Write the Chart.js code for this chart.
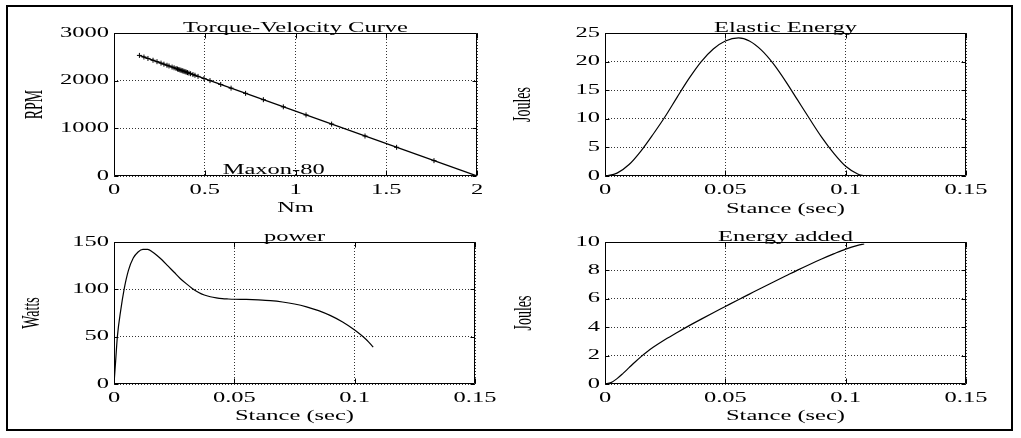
<!DOCTYPE html>
<html>
<head>
<meta charset="utf-8">
<script src="https://cdn.jsdelivr.net/npm/chart.js@4.4.1/dist/chart.umd.min.js"></script>
<style>
  html, body { margin: 0; padding: 0; background: #fff; }
  body { width: 1021px; height: 438px; position: relative; overflow: hidden; }
  .frame { position: absolute; left: 6px; top: 5px; width: 1003px; height: 422px; border: 2px solid #000; }
  canvas { position: absolute; }
</style>
</head>
<body>
<div class="frame"></div>
<canvas id="torque" width="490" height="215" style="left:10px;top:10px"></canvas>
<canvas id="elastic" width="510" height="215" style="left:500px;top:10px"></canvas>
<canvas id="power" width="490" height="205" style="left:10px;top:225px"></canvas>
<canvas id="added" width="510" height="205" style="left:500px;top:225px"></canvas>
<script>
// ---- Torque-velocity curve of the Maxon-80 motor ----
const torqueLine = [0.14, 2];
const rpmLine = [2530, 0];
const torquePoints = [0.14, 0.165, 0.187, 0.215, 0.237, 0.259, 0.275, 0.292, 0.303, 0.32, 0.331,
  0.342, 0.35, 0.357, 0.363, 0.369, 0.375, 0.38, 0.386, 0.392, 0.398, 0.405, 0.413, 0.422,
  0.435, 0.446, 0.463, 0.496, 0.529, 0.588, 0.645, 0.725, 0.823, 0.933, 1.058, 1.199, 1.383,
  1.557, 1.763];
const rpmPoints = [2530, 2496, 2466, 2428, 2398, 2368, 2346, 2323, 2308, 2285, 2270,
  2255, 2244, 2234, 2226, 2218, 2210, 2203, 2195, 2187, 2179, 2169, 2158, 2146,
  2128, 2113, 2090, 2045, 2001, 1920, 1843, 1734, 1601, 1451, 1281, 1089, 839,
  602, 322];
const torqueTicks = [0, 0.5, 1, 1.5, 2];
const torqueTickLabels = ['0', '0.5', '1', '1.5', '2'];
const rpmTicks = [0, 1000, 2000, 3000];
const rpmTickLabels = ['0', '1000', '2000', '3000'];

// ---- Stance phase time axis ----
const stanceTicks = [0, 0.05, 0.1, 0.15];
const stanceTickLabels = ['0', '0.05', '0.1', '0.15'];

// ---- Elastic energy stored in the spring ----
const elasticTime = [0, 0.005, 0.01, 0.015, 0.02, 0.025, 0.03, 0.035, 0.04, 0.045, 0.05, 0.0555,
  0.06, 0.065, 0.07, 0.075, 0.08, 0.085, 0.09, 0.095, 0.1, 0.105, 0.1076];
const elasticJoules = [0, 0.5, 2.0, 4.4, 7.3, 10.4, 13.8, 17.1, 20.0, 22.2, 23.6, 24.15,
  23.6, 22.0, 19.6, 16.6, 13.3, 10.0, 6.8, 4.0, 1.7, 0.35, 0];
const elasticTicks = [0, 5, 10, 15, 20, 25];
const elasticTickLabels = ['0', '5', '10', '15', '20', '25'];

// ---- Motor power ----
const powerTime = [0, 0.0007, 0.0014, 0.0028, 0.0042, 0.006, 0.008, 0.01, 0.012, 0.014, 0.016,
  0.018, 0.02, 0.0225, 0.025, 0.0275, 0.03, 0.0325, 0.035, 0.0375, 0.04, 0.0425, 0.045, 0.0475,
  0.05, 0.055, 0.06, 0.065, 0.07, 0.075, 0.08, 0.085, 0.09, 0.095, 0.1, 0.105, 0.1077];
const powerWatts = [0, 25, 50, 78, 100, 120, 133, 139.5, 142.3, 142.2, 139.5,
  135.5, 131, 124.5, 118, 111.5, 106, 101, 97, 94, 92.2, 91, 90.2, 89.8,
  89.5, 89.3, 88.8, 88, 86.6, 84.5, 81.5, 77.5, 72.2, 65.5, 57, 46.5, 39];
const powerTicks = [0, 50, 100, 150];
const powerTickLabels = ['0', '50', '100', '150'];

// ---- Energy added by the motor ----
const addedTime = [0, 0.0025, 0.005, 0.0075, 0.01, 0.0125, 0.015, 0.0175, 0.02, 0.025, 0.03,
  0.035, 0.04, 0.045, 0.05, 0.055, 0.06, 0.065, 0.07, 0.075, 0.08, 0.085, 0.09, 0.095, 0.1,
  0.105, 0.1077];
const addedJoules = [0, 0.1, 0.38, 0.75, 1.15, 1.55, 1.93, 2.27, 2.58, 3.13, 3.63,
  4.11, 4.57, 5.02, 5.46, 5.9, 6.33, 6.76, 7.18, 7.6, 8.02, 8.42, 8.8, 9.16, 9.5,
  9.76, 9.86];
const addedTicks = [0, 2, 4, 6, 8, 10];
const addedTickLabels = ['0', '2', '4', '6', '8', '10'];

// ---- Styling ----
const SERIF = '"Liberation Serif", "Times New Roman", serif';
const TEXT_STRETCH = 1.75;   // wide lettering of the original printout
const TICK_FONT = 14;
const AXIS_FONT = 14;
const ROT_FONT = 14;
const GRID = '#333';

const xy = (xs, ys) => xs.map((v, i) => ({ x: v, y: ys[i] }));

// Draws every text run horizontally widened around its anchor point.
const wideText = {
  id: 'wideText',
  beforeDraw(chart) {
    const c = chart.ctx;
    if (c.__plainFillText) return;
    c.__plainFillText = c.fillText;
    c.fillText = function (text, x, y, maxWidth) {
      const m = this.getTransform();
      const px = m.a * x + m.c * y + m.e;
      const py = m.b * x + m.d * y + m.f;
      this.save();
      this.setTransform(new DOMMatrix().translate(px, py).scale(TEXT_STRETCH, 1).translate(-px, -py).multiply(m));
      if (maxWidth === undefined) this.__plainFillText(text, x, y);
      else this.__plainFillText(text, x, y, maxWidth);
      this.restore();
    };
  }
};

// Closed axes box with small inward tick marks on all four sides.
const axesBox = {
  id: 'axesBox',
  afterDatasetsDraw(chart) {
    const { ctx, chartArea: a, scales: { x, y } } = chart;
    const L = Math.round(a.left) + 0.5, R = Math.round(a.right) - 0.5;
    const T = Math.round(a.top) + 0.5, B = Math.round(a.bottom) - 0.5;
    ctx.save();
    ctx.strokeStyle = '#000';
    ctx.lineWidth = 1;
    ctx.beginPath();
    x.ticks.forEach(t => {
      const p = Math.round(x.getPixelForValue(t.value)) + 0.5;
      ctx.moveTo(p, B); ctx.lineTo(p, B - 5);
      ctx.moveTo(p, T); ctx.lineTo(p, T + 5);
    });
    y.ticks.forEach(t => {
      const p = Math.round(y.getPixelForValue(t.value)) + 0.5;
      ctx.moveTo(L, p); ctx.lineTo(L + 4, p);
      ctx.moveTo(R, p); ctx.lineTo(R - 4, p);
    });
    ctx.rect(L, T, R - L, B - T);
    ctx.stroke();
    ctx.restore();
  }
};

// Panel title above the box and an optional annotation placed in data units.
const panelText = {
  id: 'panelText',
  afterDraw(chart, args, opts) {
    const { ctx, chartArea: a, scales: { x, y } } = chart;
    ctx.save();
    ctx.fillStyle = '#000';
    ctx.font = `${AXIS_FONT}px ${SERIF}`;
    ctx.textAlign = 'center';
    ctx.textBaseline = 'alphabetic';
    ctx.fillText(opts.title, (a.left + a.right) / 2, a.top - 1.5);
    if (opts.note) {
      ctx.fillText(opts.note.text, x.getPixelForValue(opts.note.x), y.getPixelForValue(opts.note.y));
    }
    ctx.restore();
  }
};

function axis(spec, dir, size) {
  return {
    type: 'linear',
    position: dir === 'x' ? 'bottom' : 'left',
    min: spec.ticks[0],
    max: spec.ticks[spec.ticks.length - 1],
    afterBuildTicks: s => { s.ticks = spec.ticks.map(v => ({ value: v })); },
    afterFit: s => { if (dir === 'x') s.height = size; else s.width = size; },
    grid: { color: GRID, lineWidth: 1, drawTicks: false },
    border: { display: false, dash: [1, 2] },
    ticks: {
      color: '#000', padding: dir === 'x' ? 6 : 5, autoSkip: false, maxRotation: 0,
      font: { family: SERIF, size: TICK_FONT },
      callback: (v, i) => spec.labels[i]
    },
    title: {
      display: true, text: spec.title, color: '#000', padding: 0,
      font: { family: SERIF, size: dir === 'x' ? AXIS_FONT : ROT_FONT, lineHeight: 1 }
    }
  };
}

function panel(id, spec) {
  const canvas = document.getElementById(id);
  const cx = parseFloat(canvas.style.left), cy = parseFloat(canvas.style.top);
  const W = canvas.width, H = canvas.height;
  const [x0, x1, y0, y1] = spec.area;
  const yScaleLeft = spec.yTitleX - ROT_FONT / 2;
  const xScaleBottom = spec.xTitleY + AXIS_FONT / 2;
  return new Chart(canvas, {
    type: 'scatter',
    data: { datasets: spec.datasets },
    options: {
      responsive: false,
      animation: false,
      devicePixelRatio: 1,
      events: [],
      layout: { padding: { left: yScaleLeft - cx, right: cx + W - x1, top: y0 - cy, bottom: cy + H - xScaleBottom } },
      scales: { x: axis(spec.x, 'x', xScaleBottom - y1), y: axis(spec.y, 'y', x0 - yScaleLeft) },
      plugins: {
        legend: { display: false },
        tooltip: { enabled: false },
        panelText: { title: spec.title, note: spec.note }
      }
    },
    plugins: [wideText, axesBox, panelText]
  });
}

const curve = (data, smooth) => ({
  data, showLine: true, borderColor: '#000', borderWidth: 1.2, pointRadius: 0,
  cubicInterpolationMode: smooth ? 'monotone' : 'default', tension: 0
});

panel('torque', {
  title: 'Torque-Velocity Curve',
  area: [114, 477, 33, 176], yTitleX: 36, xTitleY: 208,
  x: { ticks: torqueTicks, labels: torqueTickLabels, title: 'Nm' },
  y: { ticks: rpmTicks, labels: rpmTickLabels, title: 'RPM' },
  note: { text: 'Maxon-80', x: 0.88, y: 50 },
  datasets: [
    curve(xy(torqueLine, rpmLine), false),
    { data: xy(torquePoints, rpmPoints), showLine: false, pointStyle: 'cross', pointRadius: 2.5,
      borderColor: '#000', borderWidth: 1 }
  ]
});

panel('elastic', {
  title: 'Elastic Energy',
  area: [605, 966, 33, 176], yTitleX: 524, xTitleY: 209,
  x: { ticks: stanceTicks, labels: stanceTickLabels, title: 'Stance (sec)' },
  y: { ticks: elasticTicks, labels: elasticTickLabels, title: 'Joules' },
  datasets: [curve(xy(elasticTime, elasticJoules), true)]
});

panel('power', {
  title: 'power',
  area: [114, 475, 242, 384], yTitleX: 33, xTitleY: 416,
  x: { ticks: stanceTicks, labels: stanceTickLabels, title: 'Stance (sec)' },
  y: { ticks: powerTicks, labels: powerTickLabels, title: 'Watts' },
  datasets: [curve(xy(powerTime, powerWatts), true)]
});

panel('added', {
  title: 'Energy added',
  area: [605, 966, 242, 384], yTitleX: 525, xTitleY: 416,
  x: { ticks: stanceTicks, labels: stanceTickLabels, title: 'Stance (sec)' },
  y: { ticks: addedTicks, labels: addedTickLabels, title: 'Joules' },
  datasets: [curve(xy(addedTime, addedJoules), true)]
});
</script>
</body>
</html>
